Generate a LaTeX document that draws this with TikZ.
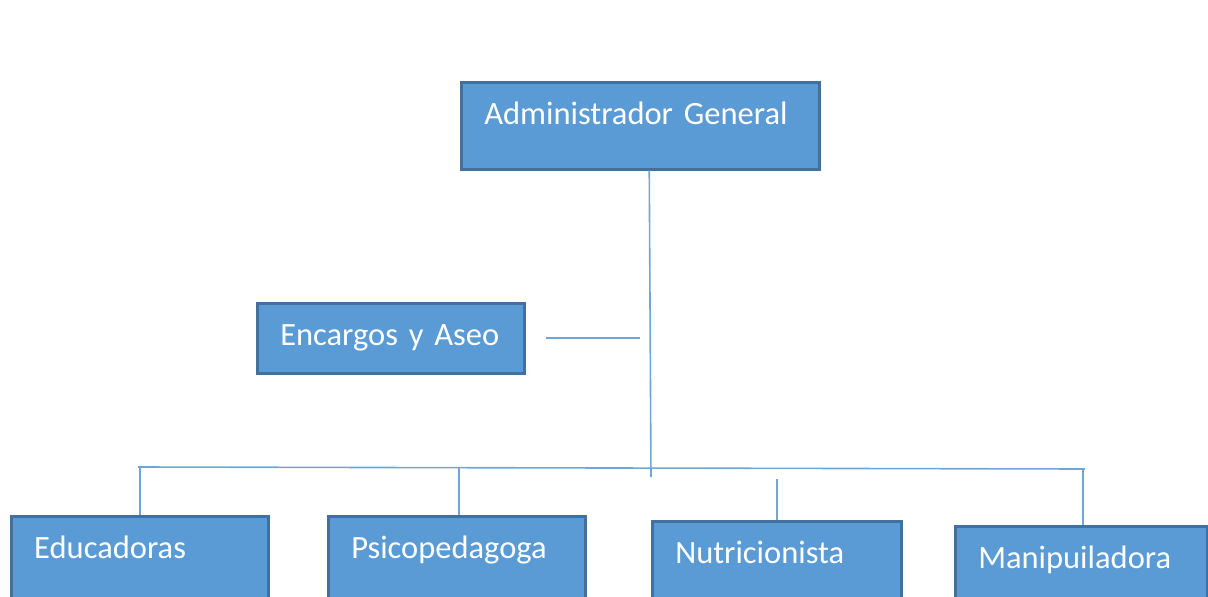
\documentclass[tikz,border=0pt]{standalone}
\usepackage{fontspec}
\setmainfont{Carlito}
\usetikzlibrary{positioning}
\definecolor{org-fill}{HTML}{5B9BD5}
\definecolor{org-edge}{HTML}{41719C}
\definecolor{org-line}{HTML}{6FA6DA}

\begin{document}
\begin{tikzpicture}[
    x=1pt, y=-1pt,
    box/.style n args={2}{draw=org-edge, fill=org-fill, line width=2.5pt, anchor=north west,
        inner xsep=23pt, inner ysep=0pt, text width=#1-46pt, text height=42pt, text depth=#2-42pt,
        align=left, text=white, font=\fontsize{32.5pt}{38pt}\selectfont},
    conn/.style={draw=org-line, line width=1.6pt}
]
\clip (0,0) rectangle (1208,597);

% =========================================================================
% CAJAS
% =========================================================================
\node[box={358pt}{87pt}] (admin) at (460,81) {Administrador General};
\node[box={267pt}{70pt}] (encargos) at (256,302) {Encargos y Aseo};

\node[box={257pt}{100pt}] (edu) at (10,515) {Educadoras};
\node[box={257pt}{100pt}] (psico) at (327,515) {Psicopedagoga};
\node[box={249pt}{100pt}] (nutri) at (651,520) {Nutricionista};
\node[box={252pt}{100pt}] (manip) at (954,525) {Manipuiladora};

% =========================================================================
% CONECTORES
% =========================================================================
\coordinate (hub) at (651,477);
\coordinate (busL) at (138,467);
\coordinate (busR) at (1085,469);

\draw[conn] ([xshift=9pt]admin.south) -- (hub);
\draw[conn] (busL) -- (busR);
\draw[conn] ([xshift=20pt]encargos.east) -- ([xshift=-11pt]encargos.east -| hub);

\draw[conn] (edu.north) -- (edu.north |- busL);
\draw[conn] ([xshift=2pt]psico.north) -- ([xshift=2pt]psico.north |- busL);
\draw[conn] (nutri.north) -- ([yshift=-10pt]nutri.north |- busR);
\draw[conn] ([xshift=2pt]manip.north) -- ([xshift=2pt]manip.north |- busR);

\end{tikzpicture}
\end{document}
